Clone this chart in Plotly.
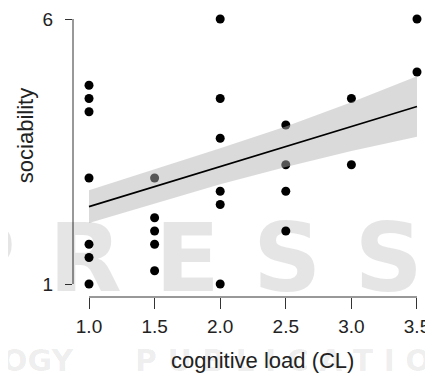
import plotly.graph_objects as go

# ---- data ----
cognitive_load = [1.0, 1.0, 1.0, 1.0, 1.0, 1.0, 1.0,
                  1.5, 1.5, 1.5, 1.5, 1.5,
                  2.0, 2.0, 2.0, 2.0, 2.0, 2.0,
                  2.5, 2.5, 2.5, 2.5,
                  3.0, 3.0,
                  3.5, 3.5]
sociability = [4.75, 4.5, 4.25, 3.0, 1.75, 1.5, 1.0,
               3.0, 2.25, 2.0, 1.75, 1.25,
               6.0, 4.5, 3.75, 2.75, 2.5, 1.0,
               4.0, 3.25, 2.75, 2.0,
               4.5, 3.25,
               6.0, 5.0]

fit_x = [1.0, 3.5]
fit_y = [2.46, 4.35]

band_x = [1.0, 1.5, 2.0, 2.5, 3.0, 3.5]
band_lower = [2.15, 2.52, 2.88, 3.21, 3.51, 3.78]
band_upper = [2.77, 3.16, 3.56, 3.97, 4.43, 4.92]

x_ticks = [1.0, 1.5, 2.0, 2.5, 3.0, 3.5]
x_tick_labels = ["1.0", "1.5", "2.0", "2.5", "3.0", "3.5"]
y_ticks = [1, 6]
y_tick_labels = ["1", "6"]

x_title = "cognitive load (CL)"
y_title = "sociability"

FONT = "Liberation Sans, Arial, Helvetica, sans-serif"
WFONT = "DejaVu Sans, sans-serif"
AXCOL = "#333333"

fig = go.Figure()

fig.add_trace(go.Scatter(
    x=cognitive_load, y=sociability, mode="markers",
    marker=dict(color="black", size=9, line=dict(width=0)),
    hoverinfo="skip", showlegend=False))

fig.add_trace(go.Scatter(
    x=band_x + band_x[::-1], y=band_upper + band_lower[::-1],
    fill="toself", fillcolor="rgba(177,177,177,0.48)",
    mode="lines", line=dict(width=0), hoverinfo="skip", showlegend=False))

fig.add_trace(go.Scatter(
    x=fit_x, y=fit_y, mode="lines",
    line=dict(color="black", width=1.6),
    hoverinfo="skip", showlegend=False))

fig.update_xaxes(
    range=[0.878, 3.622], tickvals=x_ticks, ticktext=x_tick_labels,
    ticks="outside", ticklen=11, tickwidth=1, tickcolor=AXCOL,
    showline=False, showgrid=False, zeroline=False,
    tickfont=dict(family=FONT, size=19, color="#222222"),
    ticklabelstandoff=1)
fig.update_yaxes(
    range=[0.755, 6.2075], tickvals=y_ticks, ticktext=y_tick_labels,
    ticks="outside", ticklen=7, tickwidth=1, tickcolor=AXCOL,
    showline=False, showgrid=False, zeroline=False,
    tickfont=dict(family=FONT, size=19, color="#222222"),
    ticklabelstandoff=8)

shapes = [
    dict(type="line", xref="paper", x0=0, x1=0, yref="y",
         y0=min(y_ticks), y1=max(y_ticks), line=dict(color=AXCOL, width=1)),
    dict(type="line", xref="x", x0=min(x_ticks), x1=max(x_ticks), yref="paper",
         y0=0, y1=0, line=dict(color=AXCOL, width=1)),
]

annotations = [
    # faint publisher watermark
    dict(text="<b>P R E S S</b>", xref="paper", yref="paper", x=0.311, y=0.135,
         showarrow=False, xanchor="center", yanchor="middle",
         font=dict(family=WFONT, size=95, color="rgba(0,0,0,0.1)")),
    dict(text="<b>OGY</b>", xref="paper", yref="paper", x=-0.203, y=-0.221,
         showarrow=False, xanchor="left", yanchor="middle",
         font=dict(family=WFONT, size=30, color="rgba(0,0,0,0.075)")),
    dict(text="<b>P U B L I C A T I O N S</b>", xref="paper", yref="paper",
         x=0.167, y=-0.221, showarrow=False, xanchor="left", yanchor="middle",
         font=dict(family=WFONT, size=30, color="rgba(0,0,0,0.075)")),
    # axis titles
    dict(text=x_title, xref="paper", yref="paper", x=0.525, y=-0.218,
         showarrow=False, xanchor="center", yanchor="middle",
         font=dict(family=FONT, size=22, color="#222222")),
    dict(text=y_title, xref="paper", yref="paper", x=-0.133, y=0.557,
         showarrow=False, xanchor="center", yanchor="middle", textangle=-90,
         font=dict(family=FONT, size=22, color="#222222")),
]

fig.update_layout(
    width=425, height=368,
    margin=dict(l=65, r=0, t=0, b=79, pad=0),
    paper_bgcolor="white", plot_bgcolor="white",
    shapes=shapes, annotations=annotations,
    showlegend=False)

fig.write_html("out.html")
